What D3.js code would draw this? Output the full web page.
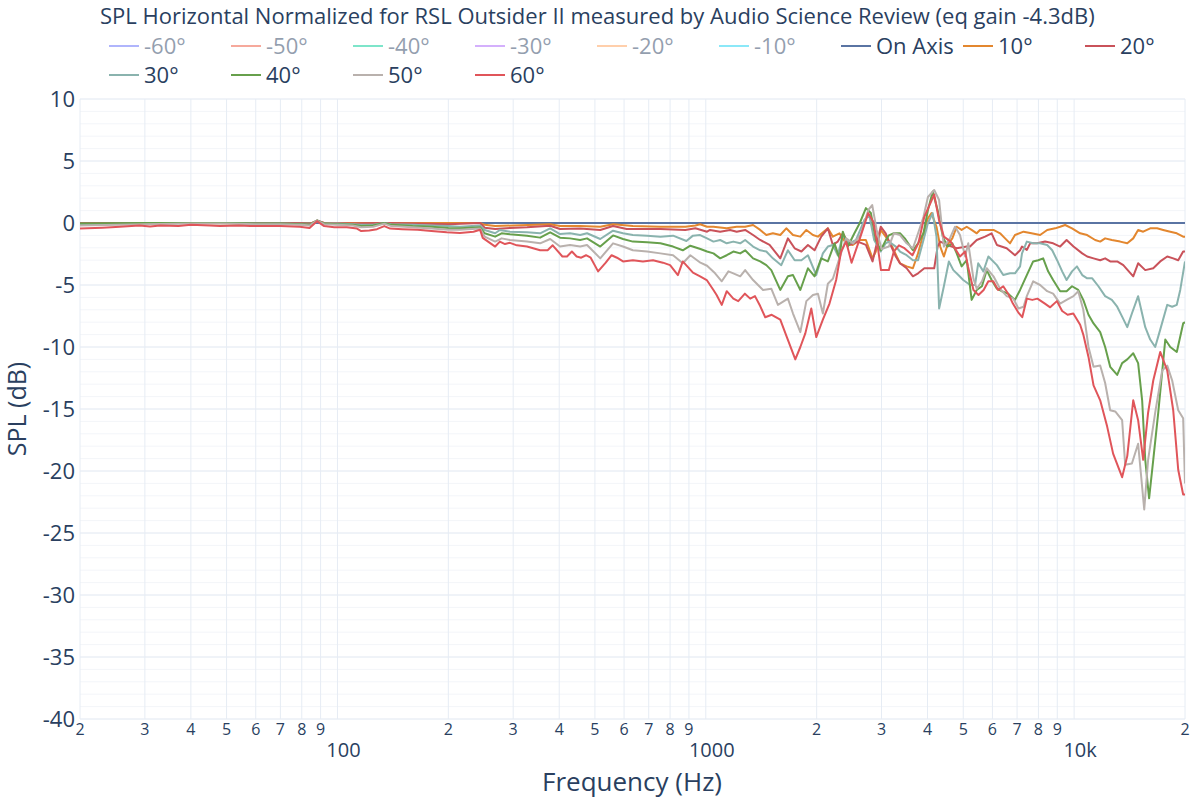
<!DOCTYPE html>
<html>
<head>
<meta charset="utf-8">
<script src="https://cdn.jsdelivr.net/npm/d3@7"></script>
<style>
body { margin: 0; background: #fff; }
svg { font-family: "Open Sans", verdana, arial, sans-serif; }
</style>
</head>
<body>
<svg></svg>
<script>
let svgWidth = 1200
let svgHeight = 800

// legend entries, in plotly order
let names = ['-60°', '-50°', '-40°', '-30°', '-20°', '-10°', 'On Axis', '10°', '20°', '30°', '40°', '50°', '60°']
let hidden = ['-60°', '-50°', '-40°', '-30°', '-20°', '-10°']

let xMajor = [100, 1000, 10000]
let xMajorLabels = ['100', '1000', '10k']
let xMinor = [20, 30, 40, 50, 60, 70, 80, 90, 200, 300, 400, 500, 600, 700, 800, 900,
    2000, 3000, 4000, 5000, 6000, 7000, 8000, 9000, 20000]
let yTicks = [10, 5, 0, -5, -10, -15, -20, -25, -30, -35, -40]

// [frequency Hz, SPL dB]
let onAxis = [[20,0],[100,0],[1000,0],[10000,0],[20000,0]]

let deg10 = [[20,-0.05],[40,0],[60,-0.05],[84,-0.05],[88,0.15],[92,0],[150,0],[244,0],
[251,-0.15],[268,-0.25],[300,-0.2],[378,-0.1],[402,-0.25],[456,-0.25],[517,-0.3],[560,-0.1],[634,-0.25],[753,-0.3],[880,-0.3],[937,-0.2],[965,-0.1],[1008,-0.3],[1049,-0.3],[1140,-0.43],[1213,-0.3],[1279,-0.3],[1344,-0.16],[1405,-0.56],[1460,-0.97],[1521,-0.83],[1593,-0.97],[1654,-0.43],[1725,-0.97],[1806,-1.1],[1875,-0.56],[1954,-0.97],[2016,-1.1],[2145,-0.43],[2213,-1.1],[2306,-0.83],[2404,-1.64],[2506,-1.77],[2619,-1.37],[2721,-1.37],[2836,-2.85],[2895,-2.3],[2985,-0.56],[3079,-1.1],[3207,-1.9],[3300,-2.7],[3367,-3.25],[3510,-3.5],[3650,-3.65],[3770,-2.45],[3900,-0.83],[4010,0.38],[4100,0.8],[4230,-0.3],[4330,-1.9],[4430,-2.7],[4530,-1.77],[4670,-1.24],[4800,-0.3],[4950,-0.56],[5110,-0.3],[5270,-0.56],[5440,-0.83],[5550,-0.56],[5730,-0.56],[6040,-0.56],[6295,-0.83],[6495,-1.24],[6700,-1.64],[6910,-0.97],[7290,-0.7],[7660,-0.83],[8085,-0.97],[8450,-0.56],[8881,-0.43],[9163,-0.3],[9454,-0.16],[9870,-0.43],[10384,-0.83],[10850,-0.97],[11406,-1.37],[11770,-1.5],[12140,-1.24],[12660,-1.37],[13337,-1.5],[13940,-1.64],[14470,-1.24],[14920,-0.56],[15400,-0.7],[16090,-0.43],[16800,-0.43],[17450,-0.56],[18240,-0.7],[19000,-0.83],[19770,-1.1],[20000,-1.1]]

let deg20 = [[20,-0.05],[40,0],[60,0],[80,-0.05],[84,-0.1],[88,0.2],[92,0],[110,-0.05],[134,0],[160,-0.05],[200,-0.1],[244,0],
[251,-0.38],[268,-0.48],[294,-0.4],[327,-0.35],[378,-0.22],[402,-0.48],[456,-0.45],[517,-0.56],[560,-0.24],[610,-0.48],[753,-0.48],[880,-0.56],[937,-0.43],[1008,-0.7],[1027,-0.56],[1094,-0.7],[1164,-0.56],[1213,-0.7],[1279,-0.56],[1344,-0.97],[1405,-1.37],[1490,-1.77],[1593,-2.85],[1671,-1.24],[1743,-2.04],[1818,-2.3],[1894,-1.77],[1974,-2.2],[2058,-1.1],[2145,-0.43],[2213,-1.77],[2282,-1.5],[2355,-0.83],[2454,-1.77],[2585,-1.5],[2721,-1.77],[2836,-3.1],[2985,-0.3],[3079,-0.83],[3160,-1.64],[3280,-2.7],[3367,-3.25],[3510,-3.65],[3650,-4.3],[3770,-4.06],[3920,-3.65],[4170,-3.65],[4260,-1.9],[4330,-1.5],[4530,-1.77],[4800,-2.04],[5110,-1.9],[5218,-1.9],[5440,-1.37],[5730,-1.1],[5970,-0.83],[6170,-1.77],[6560,-2.04],[6910,-2.6],[7134,-2.2],[7220,-1.9],[7440,-2.18],[7595,-1.64],[7930,-1.64],[8342,-1.5],[8770,-1.64],[9163,-1.9],[9540,-1.37],[9960,-1.9],[10520,-2.45],[10850,-2.7],[11290,-2.85],[11770,-3.0],[12140,-2.85],[12530,-3.1],[13090,-3.1],[13600,-3.4],[14470,-4.3],[14920,-3.25],[15600,-3.8],[16400,-3.65],[17130,-3.1],[17900,-2.7],[18580,-2.85],[19170,-3.0],[19770,-2.3],[20000,-2.3]]

let deg30 = [[20,-0.1],[30,-0.05],[40,0],[50,0],[60,-0.05],[70,-0.05],[80,-0.1],[84,-0.15],[88,0.2],[92,-0.05],[100,-0.05],[110,-0.1],[116,-0.15],[125,-0.15],[134,0],[140,-0.1],[160,-0.15],[180,-0.2],[200,-0.25],[215,-0.3],[244,-0.2],
[251,-0.56],[268,-0.83],[276,-0.56],[294,-0.7],[327,-0.75],[355,-0.83],[378,-0.43],[402,-0.89],[428,-0.83],[456,-0.97],[476,-0.83],[517,-1.29],[560,-0.62],[596,-0.83],[634,-0.97],[693,-1.02],[753,-1.1],[815,-1.02],[886,-1.45],[923,-1.02],[965,-0.97],[1008,-1.24],[1049,-1.5],[1094,-1.37],[1140,-1.64],[1188,-1.5],[1240,-1.64],[1279,-1.37],[1344,-1.9],[1405,-2.2],[1460,-2.3],[1521,-2.85],[1603,-3.4],[1671,-2.2],[1743,-3.0],[1818,-3.0],[1894,-2.6],[1995,-4.2],[2079,-2.45],[2145,-1.9],[2213,-1.77],[2282,-2.6],[2355,-0.97],[2454,-1.64],[2558,-1.37],[2694,0.24],[2778,0.65],[2865,-1.37],[2985,-2.3],[3079,-1.64],[3140,-1.5],[3280,-1.9],[3367,-2.3],[3510,-2.6],[3650,-3.0],[3770,-3.0],[3900,-1.37],[4010,0],[4130,0.8],[4230,-1.1],[4300,-6.9],[4430,-5.1],[4570,-3.1],[4700,-3.8],[4850,-4.2],[5000,-4.6],[5218,-5.0],[5383,-5.0],[5490,-3.25],[5670,-3.9],[5850,-2.7],[6170,-3.4],[6420,-4.2],[6700,-4.06],[6910,-4.06],[7134,-3.5],[7220,-2.45],[7440,-1.5],[7740,-1.64],[8085,-1.64],[8450,-1.77],[8720,-2.2],[8990,-3.0],[9280,-3.9],[9540,-4.6],[9870,-3.9],[10180,-3.5],[10520,-4.2],[10850,-4.46],[11200,-4.46],[11640,-5.1],[12140,-5.9],[12660,-6.2],[13090,-6.75],[13500,-7.55],[13940,-8.4],[14350,-7.3],[14920,-5.9],[15600,-8.4],[16090,-9.4],[16600,-10.0],[17130,-8.6],[17900,-6.6],[18460,-6.75],[19000,-6.6],[19414,-5.4],[20000,-3.1]]

let deg40 = [[20,-0.05],[30,0],[40,0],[50,0],[60,-0.05],[70,-0.05],[80,-0.1],[84,-0.15],[88,0.2],[92,-0.05],[100,-0.1],[110,-0.15],[116,-0.25],[125,-0.2],[134,0],[140,-0.15],[160,-0.25],[180,-0.3],[200,-0.4],[215,-0.43],[244,-0.35],
[251,-0.83],[268,-1.1],[279,-0.83],[294,-0.91],[327,-1.02],[355,-1.18],[378,-0.75],[402,-1.18],[428,-1.24],[456,-1.37],[476,-1.24],[517,-1.9],[560,-1.0],[596,-1.29],[634,-1.5],[693,-1.56],[753,-1.64],[815,-1.9],[866,-2.2],[908,-1.83],[967,-2.1],[1008,-2.3],[1049,-2.45],[1094,-2.85],[1140,-2.6],[1188,-2.3],[1240,-2.45],[1279,-2.2],[1344,-2.85],[1405,-3.1],[1460,-3.4],[1506,-3.8],[1593,-5.4],[1671,-4.3],[1725,-4.2],[1806,-5.4],[1894,-3.65],[1974,-4.3],[2058,-2.85],[2145,-3.1],[2236,-1.64],[2306,-2.85],[2355,-0.7],[2430,-1.9],[2532,-0.83],[2619,0],[2721,1.2],[2807,0.8],[2895,-1.37],[2985,-2.2],[3079,-1.4],[3140,-1.0],[3240,-0.83],[3367,-0.83],[3470,-1.24],[3650,-2.2],[3770,-1.64],[3900,-0.83],[4010,1.05],[4130,2.53],[4260,1.05],[4400,-1.1],[4530,-1.9],[4670,-1.64],[4800,-2.45],[4950,-3.5],[5110,-3.0],[5270,-6.2],[5440,-5.4],[5620,-5.1],[5790,-3.8],[5970,-4.6],[6170,-5.3],[6360,-5.5],[6620,-5.7],[6910,-6.2],[7134,-5.4],[7440,-4.2],[7740,-3.1],[7990,-3.0],[8240,-2.85],[8500,-3.9],[8770,-4.6],[9163,-5.5],[9540,-5.5],[9870,-5.1],[10260,-5.4],[10590,-6.2],[10940,-7.4],[11290,-8.1],[11770,-8.8],[12140,-10.0],[12530,-11.6],[13090,-12.25],[13500,-11.3],[13940,-11.0],[14470,-10.5],[14920,-11.3],[15300,-14.3],[15600,-19.1],[15980,-22.2],[16400,-19.1],[16920,-15.3],[17680,-9.4],[18240,-10.0],[19000,-10.4],[19770,-8.1],[20000,-8.0]]

let deg50 = [[20,-0.2],[30,-0.1],[40,-0.05],[50,-0.05],[60,-0.1],[70,-0.1],[80,-0.15],[84,-0.2],[88,0.2],[92,-0.1],[100,-0.15],[110,-0.2],[116,-0.35],[125,-0.3],[134,-0.05],[140,-0.25],[160,-0.35],[180,-0.45],[200,-0.55],[215,-0.55],[244,-0.45],
[251,-1.1],[268,-1.5],[279,-1.24],[294,-1.37],[327,-1.5],[355,-1.64],[378,-1.29],[402,-1.9],[428,-1.77],[456,-1.9],[476,-1.77],[517,-2.85],[560,-1.64],[596,-1.9],[634,-2.2],[693,-2.3],[753,-2.45],[815,-2.6],[866,-3.25],[908,-2.6],[967,-3.2],[1008,-3.45],[1060,-4.06],[1105,-4.7],[1152,-3.9],[1188,-4.06],[1240,-4.3],[1279,-3.8],[1344,-4.6],[1430,-5.4],[1506,-5.3],[1570,-6.6],[1671,-6.1],[1725,-7.3],[1806,-8.8],[1875,-6.3],[1954,-5.8],[2016,-5.7],[2079,-7.3],[2145,-4.9],[2213,-4.5],[2320,-2.6],[2404,-1.24],[2513,-1.64],[2630,-0.97],[2762,1.05],[2830,1.45],[2910,-0.56],[3000,-2.1],[3140,-1.9],[3240,-0.83],[3367,-0.97],[3510,-1.64],[3650,-2.04],[3770,-0.83],[3900,0.5],[4010,2.1],[4170,2.66],[4300,1.85],[4430,-1.9],[4600,-1.24],[4750,-0.3],[4900,-0.97],[5060,-2.7],[5160,-1.64],[5330,-4.5],[5440,-5.3],[5620,-4.7],[5790,-3.65],[6040,-4.3],[6295,-5.3],[6560,-5.9],[6840,-6.1],[7060,-6.9],[7290,-6.75],[7440,-5.9],[7740,-4.7],[8085,-5.0],[8450,-5.5],[8770,-5.7],[9163,-6.5],[9540,-6.2],[9960,-5.9],[10260,-5.5],[10590,-7.0],[10940,-10.0],[11290,-11.6],[11770,-11.5],[12140,-12.9],[12530,-15.1],[12930,-15.2],[13500,-15.9],[13760,-19.5],[14350,-19.4],[14920,-17.8],[15500,-23.1],[15880,-19.1],[16600,-15.3],[17340,-11.9],[17900,-11.5],[18460,-12.7],[19170,-15.1],[19770,-15.75],[20000,-21.0]]

let deg60 = [[20,-0.45],[23,-0.38],[25,-0.32],[29,-0.2],[31,-0.28],[33,-0.2],[37,-0.25],[40,-0.15],[45,-0.2],[48,-0.25],[54,-0.2],[58,-0.25],[62,-0.25],[70,-0.25],[79,-0.3],[84,-0.4],[88,0.15],[92,-0.25],[98,-0.35],[106,-0.35],[113,-0.45],[116,-0.65],[122,-0.6],[128,-0.5],[134,-0.25],[139,-0.45],[150,-0.5],[165,-0.55],[180,-0.65],[198,-0.75],[215,-0.8],[234,-0.7],[244,-0.55],
[248,-1.2],[268,-1.9],[276,-1.5],[285,-1.7],[294,-1.6],[307,-1.8],[327,-1.9],[355,-2.2],[372,-2.2],[384,-1.8],[408,-2.7],[420,-2.7],[433,-2.3],[446,-2.7],[459,-2.8],[473,-2.6],[487,-2.8],[510,-3.9],[535,-3.2],[555,-2.6],[574,-2.8],[596,-3.1],[634,-3.0],[675,-3.1],[719,-3.0],[765,-3.2],[800,-3.4],[840,-4.2],[866,-3.1],[923,-4.0],[965,-4.3],[1006,-4.6],[1049,-5.4],[1070,-5.8],[1105,-6.6],[1140,-5.5],[1188,-6.1],[1225,-6.3],[1277,-5.7],[1320,-6.1],[1360,-5.9],[1405,-6.7],[1450,-7.6],[1510,-7.4],[1593,-7.8],[1660,-9.2],[1750,-11.0],[1806,-10.0],[1863,-8.9],[1934,-6.9],[1995,-9.2],[2079,-7.8],[2167,-6.5],[2259,-4.6],[2330,-2.3],[2404,-1.5],[2488,-3.2],[2630,-1.1],[2760,0.8],[2850,0.1],[2930,-1.9],[2990,-3.8],[3140,-3.8],[3240,-2.3],[3345,-1.8],[3450,-2.0],[3640,-2.6],[3780,-1.6],[3920,0.5],[4170,2.3],[4300,0.2],[4430,-1.1],[4620,-1.5],[4900,-2.7],[5060,-2.3],[5150,-3.5],[5330,-5.4],[5500,-5.8],[5680,-5.4],[5850,-4.7],[6030,-4.7],[6220,-5.4],[6420,-5.1],[6620,-5.7],[6820,-6.5],[7050,-7.2],[7230,-7.6],[7440,-6.1],[7700,-6.2],[7950,-6.1],[8330,-6.5],[8610,-6.8],[8980,-6.3],[9280,-7.1],[9600,-7.4],[9950,-7.3],[10384,-8.2],[10590,-9.0],[10940,-10.8],[11290,-13.1],[11770,-14.3],[12290,-16.4],[12760,-18.6],[13500,-20.5],[13940,-18.8],[14470,-14.3],[14920,-15.9],[15400,-19.1],[15880,-15.3],[16400,-12.7],[17130,-10.4],[17900,-11.9],[18580,-15.1],[19170,-19.9],[19770,-21.9],[20000,-21.9]]

let colors = {
    '-60°': '#636efa', '-50°': '#ef553b', '-40°': '#00cc96', '-30°': '#ab63fa',
    '-20°': '#ffa15a', '-10°': '#19d3f3',
    'On Axis': '#5a74a3', '10°': '#e3872f', '20°': '#c9525a', '30°': '#8ab3ae',
    '40°': '#67a04c', '50°': '#b9b1ad', '60°': '#e0555a'
}

let series = [
    {name: 'On Axis', values: onAxis},
    {name: '10°', values: deg10},
    {name: '20°', values: deg20},
    {name: '30°', values: deg30},
    {name: '40°', values: deg40},
    {name: '50°', values: deg50},
    {name: '60°', values: deg60}
]

let margin = {left: 80, right: 15, top: 99, bottom: 81}
let plotW = svgWidth - margin.left - margin.right
let plotH = svgHeight - margin.top - margin.bottom
let textColor = '#2a3f5f'

let svg = d3.select('svg')
    .attr('width', svgWidth)
    .attr('height', svgHeight)

let xScale = d3.scaleLog().domain([20, 20000]).range([margin.left, margin.left + plotW])
let yScale = d3.scaleLinear().domain([-40, 10]).range([margin.top + plotH, margin.top])

drawGrid()
drawAxes()
drawLines()
drawLegend()
drawTitles()

function drawGrid(){
    let g = svg.append('g').attr('class', 'grid')
    // 1 dB minor lines
    g.selectAll('line.ymin').data(d3.range(-40, 11))
        .enter().append('line')
        .attr('x1', margin.left).attr('x2', margin.left + plotW)
        .attr('y1', d => yScale(d)).attr('y2', d => yScale(d))
        .attr('stroke', '#f3f5f9').attr('stroke-width', 1)
    g.selectAll('line.ymaj').data(yTicks)
        .enter().append('line')
        .attr('x1', margin.left).attr('x2', margin.left + plotW)
        .attr('y1', d => yScale(d)).attr('y2', d => yScale(d))
        .attr('stroke', '#e6ecf4').attr('stroke-width', 1)
    g.selectAll('line.x').data(xMinor.concat(xMajor))
        .enter().append('line')
        .attr('x1', d => xScale(d)).attr('x2', d => xScale(d))
        .attr('y1', margin.top).attr('y2', margin.top + plotH)
        .attr('stroke', '#e6ecf4').attr('stroke-width', 1)
}

function drawAxes(){
    let g = svg.append('g').attr('class', 'axes').attr('fill', textColor)
    g.selectAll('text.ytick').data(yTicks)
        .enter().append('text')
        .attr('x', 75)
        .attr('y', d => yScale(d))
        .attr('dy', '0.35em')
        .attr('text-anchor', 'end')
        .style('font-size', '22px')
        .text(d => d)
    g.selectAll('text.xmin').data(xMinor)
        .enter().append('text')
        .attr('x', d => xScale(d))
        .attr('y', 735)
        .attr('text-anchor', 'middle')
        .style('font-size', '16px')
        .text(d => String(d)[0])
    g.selectAll('text.xmaj').data(xMajor)
        .enter().append('text')
        .attr('x', d => xScale(d) + 6)
        .attr('y', 757)
        .attr('text-anchor', 'middle')
        .style('font-size', '20px')
        .text((d, i) => xMajorLabels[i])
}

function drawLines(){
    svg.append('clipPath').attr('id', 'plotclip')
        .append('rect')
        .attr('x', margin.left).attr('y', margin.top)
        .attr('width', plotW).attr('height', plotH)

    let line = d3.line()
        .x(d => xScale(d[0]))
        .y(d => yScale(d[1]))

    svg.append('g').attr('clip-path', 'url(#plotclip)')
        .selectAll('path').data(series)
        .enter().append('path')
        .attr('d', d => line(d.values))
        .attr('fill', 'none')
        .attr('stroke', d => colors[d.name])
        .attr('stroke-width', 2)
        .attr('stroke-linejoin', 'round')
}

function drawLegend(){
    let itemW = 122
    let items = svg.append('g').attr('class', 'legend')
        .selectAll('g').data(names)
        .enter().append('g')
        .attr('transform', (d, i) => `translate(${104 + (i % 9) * itemW},${i < 9 ? 46 : 75})`)
        .style('opacity', d => hidden.includes(d) ? 0.5 : 1)
    items.append('line')
        .attr('x1', 5).attr('x2', 35)
        .attr('stroke', d => colors[d])
        .attr('stroke-width', 2)
    items.append('text')
        .attr('x', 40)
        .attr('dy', '0.35em')
        .attr('fill', textColor)
        .style('font-size', '22px')
        .text(d => d)
}

function drawTitles(){
    svg.append('text')
        .attr('x', 100).attr('y', 16)
        .attr('dy', '0.35em')
        .attr('fill', textColor)
        .style('font-size', '22px')
        .text('SPL Horizontal Normalized for RSL Outsider II measured by Audio Science Review (eq gain -4.3dB)')
    svg.append('text')
        .attr('x', 632).attr('y', 782)
        .attr('dy', '0.35em')
        .attr('text-anchor', 'middle')
        .attr('fill', textColor)
        .style('font-size', '26px')
        .text('Frequency (Hz)')
    svg.append('text')
        .attr('transform', `translate(17,${margin.top + plotH / 2}) rotate(-90)`)
        .attr('dy', '0.35em')
        .attr('text-anchor', 'middle')
        .attr('fill', textColor)
        .style('font-size', '25px')
        .text('SPL (dB)')
}
</script>
</body>
</html>
